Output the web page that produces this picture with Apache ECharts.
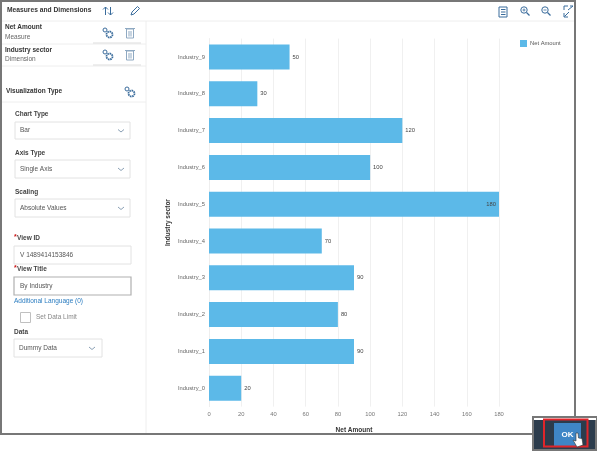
<!DOCTYPE html>
<html>
<head>
<meta charset="utf-8">
<style>
  html, body { margin: 0; padding: 0; background: #fff; }
  #chart { width: 597px; height: 451px; }
</style>
<script src="https://cdn.jsdelivr.net/npm/echarts@6/dist/echarts.min.js"></script>
</head>
<body>
<div id="chart"></div>
<script>
const categories = ["Industry_0", "Industry_1", "Industry_2", "Industry_3", "Industry_4", "Industry_5", "Industry_6", "Industry_7", "Industry_8", "Industry_9"];
const netAmount = [20, 90, 80, 90, 70, 180, 100, 120, 30, 50];
const seriesName = "Net Amount";
const axisNameY = "Industry sector";

const FONT = '"Liberation Sans", Arial, sans-serif';
const ICON = "#3a6c9c";
const items = [];

// small helpers for the side panel, everything around the plot is just decoration
const rect = (x, y, w, h, fill, stroke, lw) => items.push({
  type: "rect", shape: { x, y, width: w, height: h },
  style: { fill: fill || "none", stroke: stroke || "none", lineWidth: lw || 1 }
});
const line = (x1, y1, x2, y2, color, lw) => items.push({
  type: "line", shape: { x1, y1, x2, y2 },
  style: { stroke: color || "#eeeeee", lineWidth: lw || 1 }
});
const text = (x, y, str, size, color, weight, align) => items.push({
  type: "text", x, y,
  style: { text: str, fontSize: size, fill: color || "#444", fontWeight: weight || "normal", fontFamily: FONT, textAlign: align || "left", verticalAlign: "middle" }
});
const circle = (cx, cy, r, stroke, lw, dash) => items.push({
  type: "circle", shape: { cx, cy, r },
  style: { fill: "#fff", stroke, lineWidth: lw || 1, lineDash: dash || null }
});
const poly = (pts, color, lw) => items.push({
  type: "polyline", shape: { points: pts },
  style: { stroke: color, lineWidth: lw || 1, fill: "none" }
});

const gear = (x, y) => {
  circle(x - 3, y - 3, 2, ICON, 1);
  circle(x + 1.5, y + 1.5, 3, ICON, 1.8, [1.6, 0.7]);
};
const trash = (x, y) => {
  line(x - 5, y - 4.5, x + 5, y - 4.5, "#8fa9c2");
  rect(x - 3.5, y - 4, 7, 9, null, "#8fa9c2");
  line(x - 1, y - 2, x - 1, y + 3.5, "#8fa9c2");
  line(x + 1, y - 2, x + 1, y + 3.5, "#8fa9c2");
};
const select = (x, y, w, h, str, chevX) => {
  rect(x, y, w, h, "#fff", "#e2e2e2");
  text(x + 5, y + h / 2, str, 6.5, "#555");
  poly([[chevX - 3, y + h / 2 - 1], [chevX, y + h / 2 + 1.5], [chevX + 3, y + h / 2 - 1]], "#8aa0b5");
};
const label = (x, y, str) => text(x, y, str, 6.5, "#444", "bold");
const required = (x, y, str) => {
  text(x, y - 1, "*", 7, "#cc1919", "bold");
  text(x + 3, y, str, 6.5, "#444", "bold");
};

// header + panel lines
line(0, 21, 574, 21);
line(146, 21, 146, 433);
line(0, 44, 146, 44);
line(0, 66, 146, 66);
line(93, 43, 141, 43, "#dddddd");
line(93, 65, 141, 65, "#dddddd");
line(0, 102, 146, 102);

text(7, 10.5, "Measures and Dimensions", 6.7, "#333", "bold");
// sort arrows
poly([[105.5, 15], [105.5, 7]], ICON); poly([[103, 9.5], [105.5, 7], [108, 9.5]], ICON);
poly([[110.5, 7], [110.5, 15]], ICON); poly([[108, 12.5], [110.5, 15], [113, 12.5]], ICON);
// pencil
poly([[131, 15], [132, 12], [137.5, 6.5], [139.5, 8.5], [134, 14], [131, 15]], ICON);

text(5, 27.5, seriesName, 6.5, "#333", "bold");
text(5, 37, "Measure", 6.5, "#666");
gear(108, 33); trash(130, 33);
text(5, 50, axisNameY, 6.5, "#333", "bold");
text(5, 59, "Dimension", 6.5, "#666");
gear(108, 55); trash(130, 55);

text(6, 91.5, "Visualization Type", 6.5, "#333", "bold");
gear(130, 92);

label(15, 114, "Chart Type");
select(15, 122, 115, 17, "Bar", 121);
label(15, 153, "Axis Type");
select(15, 160, 115, 18, "Single Axis", 121);
label(15, 192, "Scaling");
select(15, 199, 115, 18, "Absolute Values", 121);

required(14, 238, "View ID");
rect(14, 246, 117, 18, "#fff", "#e2e2e2");
text(20, 255, "V 1489414153846", 6.5, "#555");
required(14, 269, "View Title");
rect(14, 277, 117, 18, "#fff", "#b0b0b0", 1.2);
text(20, 286, "By Industry", 6.5, "#555");
text(14, 301, "Additional Language (0)", 6.5, "#2a7cc0");
rect(20.5, 312.5, 10, 10, "#fff", "#c0c0c0");
text(36, 317, "Set Data Limit", 6.5, "#888");
label(14, 332, "Data");
select(14, 339, 88, 18, "Dummy Data", 92);

// toolbar at top right
rect(499, 7, 8, 10, null, ICON);
[9.5, 12, 14.5].forEach(y => line(501, y, 505.5, y, ICON));
[[525, 8.5], [546, 8.5]].forEach(([x, y], i) => {
  circle(x - 1, y + 1.5, 3.2, ICON);
  line(x + 1.5, y + 4, x + 4.5, y + 7, ICON, 1.2);
  line(x - 2.5, y + 1.5, x + 0.5, y + 1.5, ICON, 0.8);
  if (i === 0) line(x - 1, y, x - 1, y + 3, ICON, 0.8);
});
poly([[564, 10], [564, 6], [568, 6]], ICON); poly([[570, 6], [573, 6]], ICON);
poly([[564, 13], [564, 17], [568, 17]], ICON); line(564.5, 16.5, 569, 12, ICON); line(568, 10, 573, 6, ICON);

// grey screenshot frame
rect(0, 0, 575, 2, "#777");
rect(0, 0, 2, 434, "#777");
rect(574, 0, 2, 416, "#777");
rect(0, 433, 533, 2, "#777");

// OK button inset
rect(532, 416, 65, 35, "#2c3c4c");
rect(533, 417, 63, 33, null, "#777", 2);
rect(534, 418, 62, 2, "#fff");
rect(554, 423, 27, 23, "#3f86c6");
rect(544, 419.5, 43.5, 27, null, "#e0252a", 2);
text(567.5, 434.5, "OK", 8, "#fff", "bold", "center");
items.push({
  type: "polygon",
  shape: { points: [[576, 433], [578, 433], [578.5, 438], [582, 438.5], [583, 445], [577, 447], [573, 440], [576, 441]] },
  style: { fill: "#fff", stroke: "#333", lineWidth: 0.6 }
});

const chart = echarts.init(document.getElementById("chart"), null, { renderer: "canvas" });
const maxValue = Math.max(...netAmount);

chart.setOption({
  animation: false,
  textStyle: { fontFamily: FONT },
  legend: {
    left: 515, top: 35,
    icon: "rect",
    itemWidth: 7, itemHeight: 7, itemGap: 4,
    textStyle: { fontSize: 5.8, color: "#555", padding: [0, 0, 0, -2] },
    data: [seriesName]
  },
  grid: { left: 209, right: 98, top: 38.6, height: 368, containLabel: false },
  xAxis: {
    type: "value", min: 0, max: 180, interval: 20,
    name: seriesName, nameLocation: "middle", nameGap: 20,
    nameTextStyle: { fontSize: 6.5, fontWeight: "bold", color: "#333" },
    axisLine: { show: false }, axisTick: { show: false },
    axisLabel: { fontSize: 5.8, color: "#777", margin: 5 },
    splitLine: { lineStyle: { color: "#f0f0f0", width: 1 } }
  },
  yAxis: {
    type: "category", data: categories,
    name: axisNameY, nameLocation: "middle", nameGap: 37, nameRotate: 90,
    nameTextStyle: { fontSize: 6.5, fontWeight: "bold", color: "#333" },
    axisLine: { show: true, lineStyle: { color: "#eeeeee" } }, axisTick: { show: false },
    axisLabel: { fontSize: 5.8, color: "#666", margin: 4 }
  },
  series: [{
    name: seriesName, type: "bar", barWidth: 25,
    itemStyle: { color: "#5cb9e8" },
    label: { show: true, position: "right", fontSize: 5.8, color: "#444", distance: 3 },
    data: netAmount.map(v => v === maxValue
      ? { value: v, label: { position: "insideRight" } }
      : v)
  }],
  graphic: { elements: items }
});
</script>
</body>
</html>
